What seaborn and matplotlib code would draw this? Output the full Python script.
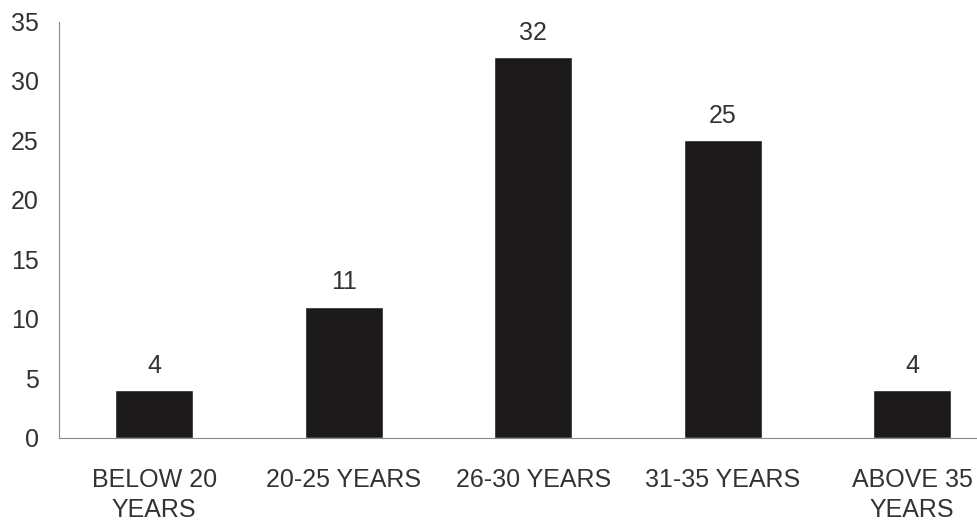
import matplotlib
matplotlib.use("Agg")
import matplotlib.pyplot as plt
import seaborn as sns
import pandas as pd
import numpy as np

categories = ["BELOW 20\nYEARS", "20-25 YEARS", "26-30 YEARS", "31-35 YEARS", "ABOVE 35\nYEARS"]
values = [4, 11, 32, 25, 4]
yticks = [0, 5, 10, 15, 20, 25, 30, 35]

sns.set_theme(style="white")
plt.rcParams['font.family'] = ['Liberation Sans', 'DejaVu Sans']

df = pd.DataFrame({"cat": categories, "val": values})

fig = plt.figure(figsize=(9.78, 5.21), dpi=100)
fig.patch.set_facecolor("white")
ax = fig.add_axes([59.5/978, 83.3/521, (1007-59.5)/978, (437.7-21.5)/521])
ax.set_facecolor("white")

sns.barplot(data=df, x="cat", y="val", color="#1c1a1a", saturation=1, width=0.41, ax=ax)

ax.set_xlim(-0.5, 4.5)
ax.set_ylim(0, 35)
ax.set_yticks(yticks)
ax.set_xlabel("")
ax.set_ylabel("")

fs = 18
for i, v in enumerate(values):
    ax.annotate(str(v), (i, v), xytext=(0, 9), textcoords="offset points",
                ha="center", va="bottom", fontsize=fs, color="#333333")

for s in ["top", "right"]:
    ax.spines[s].set_visible(False)
for s in ["left", "bottom"]:
    ax.spines[s].set_color("#8a8a8a")
    ax.spines[s].set_linewidth(0.8)

ax.set_xticks(np.arange(-0.5, 5, 1), minor=True)
ax.tick_params(axis="x", which="major", length=0, pad=21.5, labelsize=fs, labelcolor="#333333")
ax.tick_params(axis="x", which="minor", length=3, direction="in", color="#8a8a8a", width=0.8)
ax.tick_params(axis="y", which="major", length=3, direction="in", color="#8a8a8a", width=0.8,
               pad=15, labelsize=fs, labelcolor="#333333")
for lbl in ax.get_xticklabels():
    lbl.set_linespacing(1.34)

fig.savefig("out.png", dpi=100, facecolor="white")
